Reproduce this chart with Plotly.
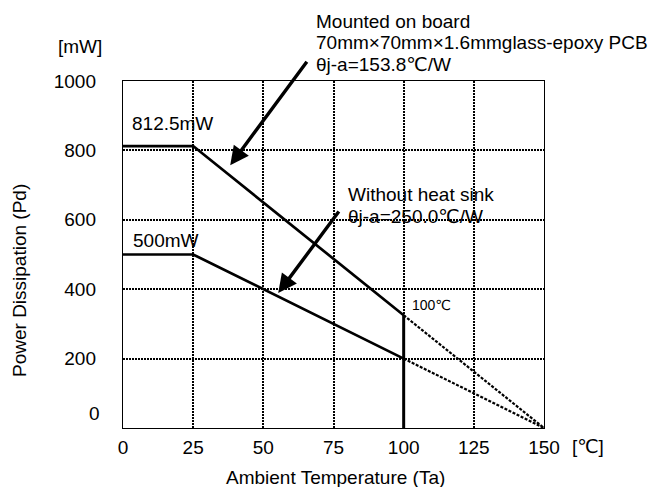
import plotly.graph_objects as go

# Derating curve data: ambient temperature (°C) vs allowable power dissipation (mW)
temps = [0, 25, 100]
mounted_pd = [812.5, 812.5, 325]      # on 70x70x1.6mm glass-epoxy PCB, θj-a = 153.8 ℃/W
no_sink_pd = [500, 500, 200]          # without heat sink, θj-a = 250.0 ℃/W
ext_temps = [100, 150]
mounted_ext = [325, 0]
no_sink_ext = [200, 0]
limit_temp = [100, 100]
limit_pd = [0, 325]

x_ticks = [0, 25, 50, 75, 100, 125, 150]
y_ticks = [200, 400, 600, 800, 1000]

FONT = "Liberation Sans, Arial, DejaVu Sans, sans-serif"
FS = 19
W, H = 652, 487
L, R, T, B = 123, 108, 81, 59
PW, PH = W - L - R, H - T - B


def px(x):
    return (x - L) / PW


def py(y):
    return (H - B - y) / PH


fig = go.Figure()

solid = dict(color="black", width=2.7)
dotted = dict(color="black", width=2.2, dash="3px,1.5px")

fig.add_trace(go.Scatter(x=temps, y=mounted_pd, mode="lines", line=solid))
fig.add_trace(go.Scatter(x=temps, y=no_sink_pd, mode="lines", line=solid))
fig.add_trace(go.Scatter(x=ext_temps, y=mounted_ext, mode="lines", line=dotted))
fig.add_trace(go.Scatter(x=ext_temps, y=no_sink_ext, mode="lines", line=dotted))
fig.add_trace(go.Scatter(x=limit_temp, y=limit_pd, mode="lines",
                         line=dict(color="black", width=3)))

ann = []


def text(x, y, s, size=FS, xanchor="left"):
    ann.append(dict(x=px(x), y=py(y), xref="paper", yref="paper", text=s,
                    showarrow=False, xanchor=xanchor, yanchor="middle",
                    font=dict(family=FONT, size=size, color="black")))


text(314, 21, "Mounted on board")
text(314, 42, "70mm×70mm×1.6mmglass-epoxy PCB")
text(314, 64, "θj-a=153.8℃/W")
text(130, 124, "812.5mW")
text(131, 240, "500mW")
text(346, 194, "Without heat sink")
text(346, 216, "θj-a=250.0℃/W")
text(410, 305, "100℃", size=14)
text(80, 46, "[mW]", xanchor="center")
text(588, 446, "[℃]", xanchor="center")
text(335, 477, "Ambient Temperature (Ta)", xanchor="center")

# y-axis title
ann.append(dict(x=px(19), y=py(281), xref="paper", yref="paper",
                text="Power Dissipation (Pd)", showarrow=False, textangle=-90,
                xanchor="center", yanchor="middle",
                font=dict(family=FONT, size=FS, color="black")))

# zero label of the power axis
ann.append(dict(x=0, y=0, xref="x", yref="y", text="0", showarrow=False,
                xanchor="right", yanchor="middle", xshift=-21, yshift=15,
                font=dict(family=FONT, size=FS, color="black")))

# pointer arrows to each curve
ann.append(dict(x=38.2, y=757, ax=65.9, ay=1060, xref="x", yref="y",
                axref="x", ayref="y", text="", showarrow=True,
                arrowhead=2, arrowsize=1.1, arrowwidth=3.4, arrowcolor="black"))
ann.append(dict(x=55.3, y=389, ax=77.3, ay=628, xref="x", yref="y",
                axref="x", ayref="y", text="", showarrow=True,
                arrowhead=2, arrowsize=1.1, arrowwidth=3.4, arrowcolor="black"))

fig.update_layout(
    width=W, height=H,
    margin=dict(l=L, r=R, t=T, b=B, pad=0),
    paper_bgcolor="white", plot_bgcolor="white",
    showlegend=False,
    annotations=ann,
    font=dict(family=FONT, size=FS, color="black"),
)

grid = dict(showgrid=True, gridcolor="black", gridwidth=1.6, griddash="2px,1px",
            showline=True, linecolor="black", linewidth=1.4, mirror=True,
            zeroline=False, ticks="",
            tickfont=dict(family=FONT, size=FS, color="black"))

fig.update_xaxes(range=[0, 150], tickvals=x_ticks, ticklabelstandoff=2, **grid)
fig.update_yaxes(range=[0, 1000], tickvals=y_ticks, ticklabelstandoff=22, **grid)

fig.write_html("out.html")
